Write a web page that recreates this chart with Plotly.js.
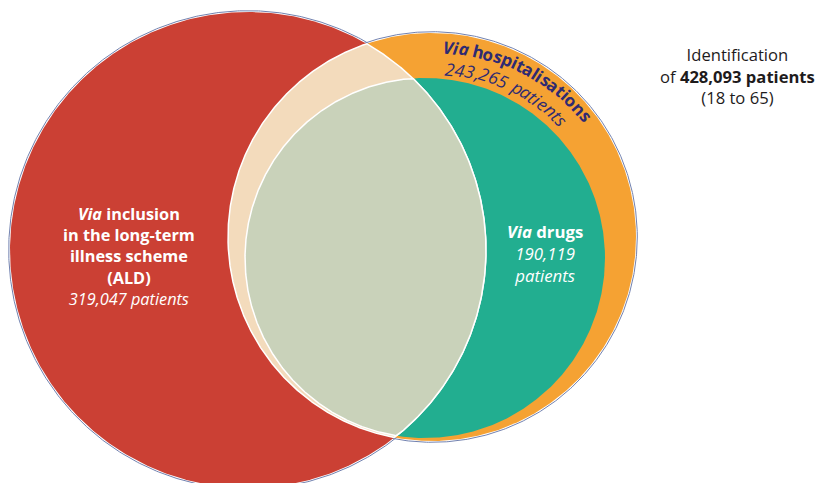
<!DOCTYPE html>
<html><head><meta charset="utf-8">
<script src="https://cdn.plot.ly/plotly-3.0.1.min.js"></script>
<style>html,body{margin:0;padding:0;background:#fff}#chart{width:819px;height:483px}</style>
</head><body><div id="chart"></div>
<script>
// ---- data ----
const setKeys = ['ald', 'hosp', 'drugs'];
const setPatients = [319047, 243265, 190119];
const totalPatients = 428093;
const ageRange = [18, 65];
const aldLabelLines = ['<i>Via</i> inclusion', 'in the long-term', 'illness scheme', '(ALD)'];
const drugsLabel = '<i>Via</i> drugs';
const hospLabelParts = ['Via', ' hospitalisations'];
const introLines = ['Identification', 'of'];

// ---- layout geometry (axis units = pixels) ----
const geo = {
  ald:   {cx: 248, cy: 250, r: 238},
  hosp:  {cx: 432, cy: 237, r: 204},
  drugs: {cx: 425, cy: 258, r: 180}
};
const col = {ald:'#CB4034', hosp:'#F5A233', drugs:'#22AE90', aldHosp:'#F3DBBC', aldDrugs:'#C9D2BA',
             outline:'#7282B0', hospText:'#2E2A72', text:'#1E1B1C'};
const FAM = 'Open Sans';
const fmt = v => v.toLocaleString('en-US');

function circlePts(c, r, n = 720) {
  const x = [], y = [];
  for (let i = 0; i <= n; i++) { const t = 2 * Math.PI * i / n; x.push(c.cx + r * Math.cos(t)); y.push(c.cy + r * Math.sin(t)); }
  return {x, y};
}
function inside(p, c) { return Math.hypot(p[0] - c.cx, p[1] - c.cy) <= c.r + 1e-9; }
function lens(A, B, n = 1440) {
  const pts = [];
  for (let i = 0; i < n; i++) {
    const t = 2 * Math.PI * i / n;
    const pa = [A.cx + A.r * Math.cos(t), A.cy + A.r * Math.sin(t)]; if (inside(pa, B)) pts.push(pa);
    const pb = [B.cx + B.r * Math.cos(t), B.cy + B.r * Math.sin(t)]; if (inside(pb, A)) pts.push(pb);
  }
  let mx = 0, my = 0; pts.forEach(p => { mx += p[0]; my += p[1]; }); mx /= pts.length; my /= pts.length;
  pts.sort((p, q) => Math.atan2(p[1] - my, p[0] - mx) - Math.atan2(q[1] - my, q[0] - mx));
  pts.push(pts[0]);
  return {x: pts.map(p => p[0]), y: pts.map(p => p[1])};
}

const traces = [];
function addPoly(p, fill, line) {
  traces.push({type:'scatter', mode:'lines', x:p.x, y:p.y, fill: fill ? 'toself' : 'none',
    fillcolor: fill || 'rgba(0,0,0,0)', line: line || {width:0, color:'rgba(0,0,0,0)'}, hoverinfo:'skip'});
}
// outlines
addPoly(circlePts(geo.ald, geo.ald.r + 1.3), null, {color: col.outline, width: 1});
addPoly(circlePts(geo.hosp, geo.hosp.r + 1.3), null, {color: col.outline, width: 1});
// fills
addPoly(circlePts(geo.ald, geo.ald.r), col.ald);
addPoly(circlePts(geo.hosp, geo.hosp.r), col.hosp);
addPoly(circlePts(geo.drugs, geo.drugs.r), col.drugs);
addPoly(lens(geo.ald, geo.hosp), col.aldHosp, {color:'#ffffff', width:1.5});
addPoly(lens(geo.ald, geo.drugs), col.aldDrugs, {color:'#ffffff', width:1.5});

// ---- annotations ----
const anns = [];
function ann(x, y, text, size, color, extra) {
  anns.push(Object.assign({xref:'x', yref:'y', x, y, text, showarrow:false, xanchor:'center', yanchor:'middle',
    font:{family:FAM, size, color}}, extra || {}));
}
// ALD label (one multi-line text)
ann(129, 256, aldLabelLines.map(t => '<b>' + t + '</b>').join('<br>') + '<br><i>' + fmt(setPatients[0]) + ' patients</i>',
    16.3, '#ffffff');
// drugs label
ann(545, 253, '<b>' + drugsLabel + '</b><br><i>' + fmt(setPatients[2]) + '</i><br><i>patients</i>', 16.8, '#ffffff');
// right text
ann(737, 76, introLines[0] + '<br>' + introLines[1] + ' <b>' + fmt(totalPatients) + ' patients</b><br>(' +
    ageRange[0] + ' to ' + ageRange[1] + ')', 16.6, col.text);

// curved text along orange circle
const ctx = document.createElement('canvas').getContext('2d');
function curvedText(segments, o) {
  const chars = [];
  segments.forEach(s => [...s.t].forEach(ch => chars.push({ch, b: s.b, i: s.i})));
  chars.forEach(c => { ctx.font = (c.i ? 'italic ' : '') + (c.b ? 'bold ' : '') + o.size + 'px "' + FAM + '"'; c.w = ctx.measureText(c.ch).width; });
  const total = chars.reduce((s, c) => s + c.w, 0);
  let s = 0;
  chars.forEach(c => {
    const f = (s + c.w / 2) / total; s += c.w;
    if (c.ch === ' ') return;
    const a = o.a0 + (o.a1 - o.a0) * f, r = o.r0 + (o.r1 - o.r0) * f, rad = a * Math.PI / 180;
    let t = c.ch; if (c.i) t = '<i>' + t + '</i>'; if (c.b) t = '<b>' + t + '</b>';
    ann(o.cx + r * Math.sin(rad), o.cy - r * Math.cos(rad), t, o.size, o.color, {textangle: a});
  });
}
curvedText([{t: hospLabelParts[0], b: true, i: true}, {t: hospLabelParts[1], b: true, i: false}],
  {cx: geo.hosp.cx, cy: geo.hosp.cy, a0: 3.5, a1: 53, r0: 190, r1: 196, size: 17, color: col.hospText});
curvedText([{t: fmt(setPatients[1]) + ' patients', b: false, i: true}],
  {cx: geo.hosp.cx, cy: geo.hosp.cy, a0: 4.5, a1: 49.6, r0: 169, r1: 175, size: 17.5, color: col.hospText});

const layout = {
  width: 819, height: 483, margin: {l:0, r:0, t:0, b:0},
  paper_bgcolor: '#ffffff', plot_bgcolor: '#ffffff', showlegend: false,
  xaxis: {range: [0, 819], visible: false, fixedrange: true},
  yaxis: {range: [483, 0], visible: false, fixedrange: true},
  annotations: anns
};
Plotly.newPlot('chart', traces, layout, {displayModeBar: false, staticPlot: true});
</script></body></html>
